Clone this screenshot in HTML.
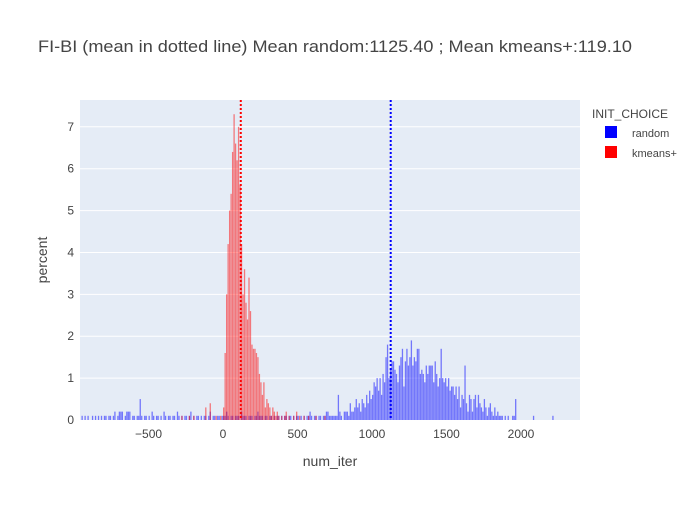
<!DOCTYPE html>
<html><head><meta charset="utf-8">
<style>
body{margin:0;background:#fff;font-family:"Liberation Sans",sans-serif;}
svg text{font-family:"Liberation Sans",sans-serif;}
</style></head>
<body>
<svg id="chart" width="700" height="500">
  <rect x="0" y="0" width="700" height="500" fill="#fff"/>
  <rect x="80" y="100" width="500" height="320" fill="#E5ECF6"/>
  <g id="grid"></g>
  <g id="bars"></g>
  <g id="ticks"></g>
  <text x="38" y="52" font-size="17" fill="#444" textLength="594" lengthAdjust="spacingAndGlyphs">FI-BI (mean in dotted line) Mean random:1125.40 ; Mean kmeans+:119.10</text>
  <text x="330" y="466" font-size="14" fill="#444" text-anchor="middle">num_iter</text>
  <text transform="translate(47,260) rotate(-90)" font-size="14" fill="#444" text-anchor="middle">percent</text>
  <g>
    <text x="592" y="118" font-size="12" fill="#444">INIT_CHOICE</text>
    <g>
      <rect x="605" y="126" width="12" height="12" fill="#0000FF"/>
      <text x="632" y="137" font-size="11" fill="#444">random</text>
    </g>
    <g>
      <rect x="605" y="146" width="12" height="12" fill="#FF0000"/>
      <text x="632" y="157" font-size="11" fill="#444">kmeans+</text>
    </g>
  </g>
</svg>
<script>
const binWidth = 10;
const blueStart = -950;
const blueVals = [
1,0,1,0,1,0,0,1,0,1, 0,1,0,1,0,1,1,0,1,1, 0,1,2,0,1,2,2,2,0,1, 2,2,2,0,1,1,0,1,1,5,
1,0,1,1,0,1,0,2,1,0, 1,1,0,1,0,2,1,0,1,1, 0,1,1,0,2,1,0,1,0,1, 1,0,1,2,0,1,0,1,1,0,
1,0,1,1,0,1,2,0,1,1, 0,1,1,0,1,1,1,2,1,0, 1,1,0,1,1,1,0,2,1,1, 1,0,1,1,1,0,1,1,2,1,
1,1,0,1,1,0,1,1,0,1, 0,1,1,0,1,0,1,1,0,1, 1,0,1,0,1,1,0,1,0,1, 0,1,1,2,1,0,1,1,0,1,
1,0,1,1,2,
2,1,1,1,1,1,1,6,2,1, 0,2,2,2,1,4,2,2,3,5, 3,4,2,5,4,3,6,4,7,5, 6,9,8,10,7,10,6,11,9,15,
18,10,12,14,14,12,11,9,13,15, 17,8,14,17,13,15,19,13,15,14, 17,17,11,12,11,9,13,11,13,13,
13,9,14,11,8,10,17,10,9,10, 8,10,7,8,8,6,8,5,8,3, 6,5,13,4,2,6,5,2,5,6,
3,6,4,3,2,5,3,1,3,4, 2,1,3,1,2,1,1,1,0,1, 0,1,0,0,1,1,5,0,0,0,
0,0,0,0,0,0,0,0,1,0, 0,0,0,0,0,0,0,0,0,0, 0,1
];
const redStart = -300;
const redVals = [
0,0,1,0,0,0,0,1,0,0, 1,0,0,0,0,0,0,0,3,0, 0,4,0,0,0,1,0,0,1,0,
3,16,30,42,50,54,64,73,66,62, 70,56,42,30,36,28,24,34,26,18, 17,17,16,15,11,9,6,9,3,5, 4,3,1,3,2,1,2,1,0,1,
0,1,2,0,1,0,0,1,0,2, 0,1,0,0,1,0,0,1,0,0, 0,0,1,0,0,0,0,0,1,0
];
const meanRandom = 1125.40;
const meanKmeans = 119.10;
const xTicks = [-500,0,500,1000,1500,2000];
const yTicks = [0,1,2,3,4,5,6,7];

const X0=80,X1=580,Y0=100,Y1=420;
const xMin=-960,xMax=2396,yMax=7.64;
const xs=v=>X0+(v-xMin)/(xMax-xMin)*(X1-X0);
const ys=v=>Y1-v/yMax*(Y1-Y0);
const NS='http://www.w3.org/2000/svg';
function mk(t,a,p){const e=document.createElementNS(NS,t);for(const k in a)e.setAttribute(k,a[k]);p.appendChild(e);return e;}
const grid=document.getElementById('grid'),bars=document.getElementById('bars'),ticks=document.getElementById('ticks');
yTicks.forEach(t=>{
  if(t>0){const g=mk('line',{x1:X0,x2:X1,y1:ys(t),y2:ys(t),stroke:'#fff','stroke-width':1},grid);
  
  }
  const l=mk('text',{x:74,y:ys(t)+4,'font-size':12,fill:'#444','text-anchor':'end'},ticks);
  l.textContent=t;
  
  
});
xTicks.forEach(t=>{
  const l=mk('text',{x:xs(t),y:438,'font-size':12,fill:'#444','text-anchor':'middle'},ticks);
  l.textContent=t<0?'\u2212'+(-t):t;
  
  
});
function drawSeries(vals,start,color,name){
  vals.forEach((c,i)=>{
    const v=c/10; if(v<=0)return;
    const a=start+i*binWidth;
    const r=mk('rect',{x:xs(a),y:ys(v),width:Math.max(0.5,xs(a+binWidth)-xs(a)-0.2),height:Y1-ys(v),fill:color,'fill-opacity':0.5},bars);
    
    
  });
}
drawSeries(blueVals,blueStart,'#0000FF','bar-random');
drawSeries(redVals,redStart,'#FF0000','bar-kmeans');
[[meanRandom,'#0000FF','mean-line-random'],[meanKmeans,'#FF0000','mean-line-kmeans']].forEach(([m,c,n])=>{
  const l=mk('line',{x1:xs(m),x2:xs(m),y1:Y0,y2:Y1,stroke:c,'stroke-width':2,'stroke-dasharray':'2,2'},bars);
  
  
});
</script>
</body></html>
